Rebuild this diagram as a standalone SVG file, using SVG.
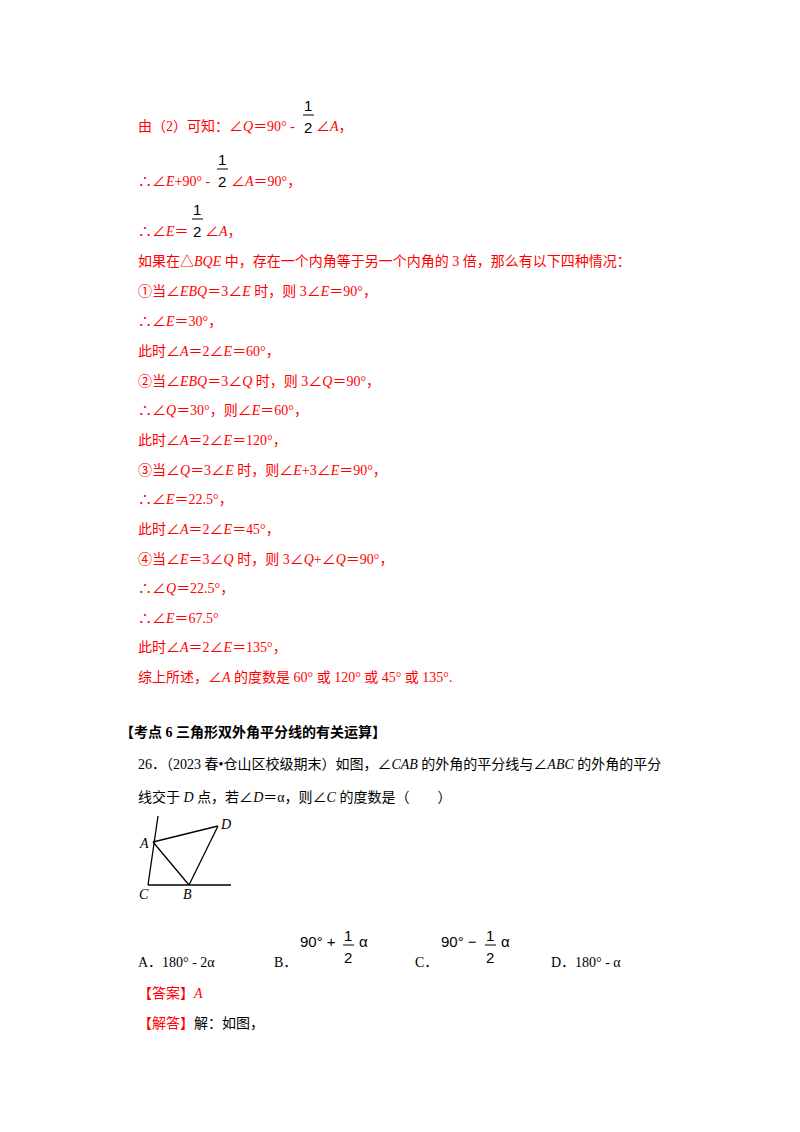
<svg xmlns="http://www.w3.org/2000/svg" width="800" height="1132" viewBox="0 0 800 1132">
<style>
text{font-family:"Liberation Serif","Noto Sans CJK SC",serif;font-size:14px}
.r{fill:#ff0000}
.k{fill:#000}
.i{font-style:italic}
.f{font-family:"Liberation Sans","DejaVu Sans",sans-serif;font-size:15px;fill:#000}
.ln{stroke:#000;stroke-width:1.3;fill:none}
</style>
<rect width="800" height="1132" fill="#fff"/>
<g id="solution">
<text class="r" x="138" y="131">由（2）可知：∠<tspan class="i">Q</tspan>＝90° - </text>
<text class="f" x="304" y="111">1</text><line x1="303" y1="115" x2="314" y2="115" stroke="#000"/><text class="f" x="304" y="133">2</text>
<text class="r" x="316" y="131">∠<tspan class="i">A</tspan>，</text>
<text class="r" x="138" y="186">∴∠<tspan class="i">E</tspan>+90° - </text>
<text class="f" x="218" y="165">1</text><line x1="217" y1="169" x2="228" y2="169" stroke="#000"/><text class="f" x="218" y="187">2</text>
<text class="r" x="231" y="186">∠<tspan class="i">A</tspan>＝90°，</text>
<text class="r" x="138" y="236">∴∠<tspan class="i">E</tspan>＝</text>
<text class="f" x="193" y="215">1</text><line x1="192" y1="219" x2="203" y2="219" stroke="#000"/><text class="f" x="193" y="237">2</text>
<text class="r" x="205" y="236">∠<tspan class="i">A</tspan>，</text>
<text class="r" x="138" y="266">如果在△<tspan class="i">BQE</tspan> 中，存在一个内角等于另一个内角的 3 倍，那么有以下四种情况：</text>
<text class="r" x="138" y="296">①当∠<tspan class="i">EBQ</tspan>＝3∠<tspan class="i">E</tspan> 时，则 3∠<tspan class="i">E</tspan>＝90°，</text>
<text class="r" x="138" y="326">∴∠<tspan class="i">E</tspan>＝30°，</text>
<text class="r" x="138" y="356">此时∠<tspan class="i">A</tspan>＝2∠<tspan class="i">E</tspan>＝60°，</text>
<text class="r" x="138" y="386">②当∠<tspan class="i">EBQ</tspan>＝3∠<tspan class="i">Q</tspan> 时，则 3∠<tspan class="i">Q</tspan>＝90°，</text>
<text class="r" x="138" y="415">∴∠<tspan class="i">Q</tspan>＝30°，则∠<tspan class="i">E</tspan>＝60°，</text>
<text class="r" x="138" y="445">此时∠<tspan class="i">A</tspan>＝2∠<tspan class="i">E</tspan>＝120°，</text>
<text class="r" x="138" y="475">③当∠<tspan class="i">Q</tspan>＝3∠<tspan class="i">E</tspan> 时，则∠<tspan class="i">E</tspan>+3∠<tspan class="i">E</tspan>＝90°，</text>
<text class="r" x="138" y="504">∴∠<tspan class="i">E</tspan>＝22.5°，</text>
<text class="r" x="138" y="534">此时∠<tspan class="i">A</tspan>＝2∠<tspan class="i">E</tspan>＝45°，</text>
<text class="r" x="138" y="564">④当∠<tspan class="i">E</tspan>＝3∠<tspan class="i">Q</tspan> 时，则 3∠<tspan class="i">Q</tspan>+∠<tspan class="i">Q</tspan>＝90°，</text>
<text class="r" x="138" y="593">∴∠<tspan class="i">Q</tspan>＝22.5°，</text>
<text class="r" x="138" y="623">∴∠<tspan class="i">E</tspan>＝67.5°</text>
<text class="r" x="138" y="652">此时∠<tspan class="i">A</tspan>＝2∠<tspan class="i">E</tspan>＝135°，</text>
<text class="r" x="138" y="682">综上所述，∠<tspan class="i">A</tspan> 的度数是 60° 或 120° 或 45° 或 135°.</text>
</g>
<g id="question">
<text class="k" x="120" y="737" font-weight="bold">【考点 6  三角形双外角平分线的有关运算】</text>
<text class="k" x="138" y="769">26．（2023 春•仓山区校级期末）如图，∠<tspan class="i">CAB</tspan> 的外角的平分线与∠<tspan class="i">ABC</tspan> 的外角的平分</text>
<text class="k" x="138" y="802">线交于 <tspan class="i">D</tspan> 点，若∠<tspan class="i">D</tspan>＝α，则∠<tspan class="i">C</tspan> 的度数是（　　）</text>
</g>
<g id="figure">
<line class="ln" x1="158" y1="816" x2="148" y2="885"/>
<line class="ln" x1="148" y1="885" x2="231" y2="885"/>
<line class="ln" x1="153" y1="842" x2="218" y2="826"/>
<line class="ln" x1="153" y1="842" x2="189" y2="885"/>
<line class="ln" x1="218" y1="826" x2="189" y2="885"/>
<text class="k i" x="140" y="848">A</text>
<text class="k i" x="221" y="829">D</text>
<text class="k i" x="139" y="899">C</text>
<text class="k i" x="183" y="899">B</text>
</g>
<g id="options">
<text class="k" x="138" y="967">A．180° - 2α</text>
<text class="k" x="274" y="967">B．</text>
<text class="f" x="300" y="947">90°  +</text><text class="f" x="344" y="941">1</text><line x1="343" y1="945" x2="354" y2="945" stroke="#000"/><text class="f" x="344" y="963">2</text><text class="f" x="359" y="947">α</text>
<text class="k" x="415" y="967">C．</text>
<text class="f" x="441" y="947">90°  −</text><text class="f" x="486" y="941">1</text><line x1="485" y1="945" x2="496" y2="945" stroke="#000"/><text class="f" x="486" y="963">2</text><text class="f" x="501" y="947">α</text>
<text class="k" x="551" y="967">D．180° - α</text>
<text class="r" x="138" y="998">【答案】<tspan class="i">A</tspan></text>
<text class="r" x="138" y="1028">【解答】<tspan fill="#000">解：如图，</tspan></text>
</g>
</svg>
